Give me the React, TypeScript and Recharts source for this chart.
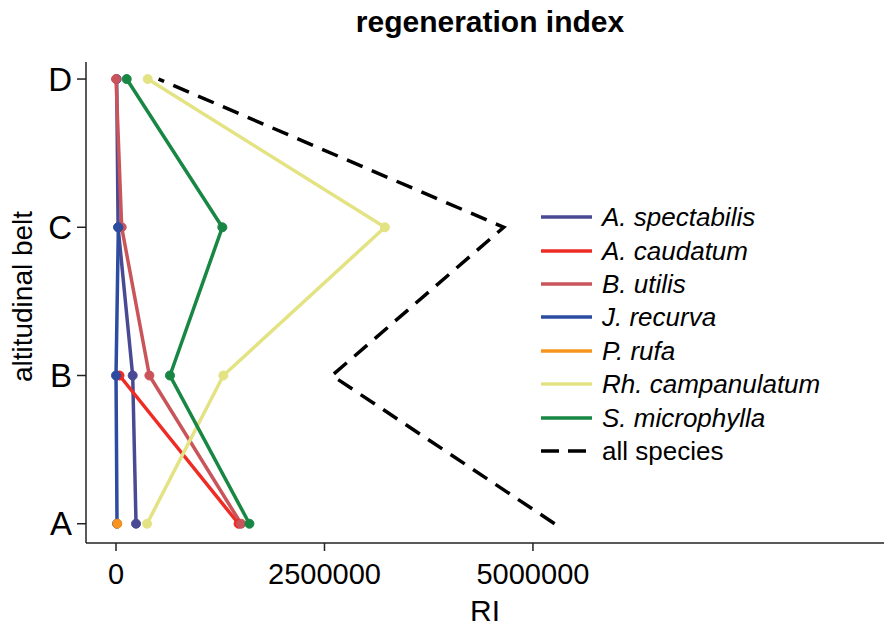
import { LineChart, Line, XAxis, YAxis } from 'recharts'

// altitudinal belts, bottom to top
const BELTS = ['A', 'B', 'C', 'D']
const BELT_INDEX = [0, 1, 2, 3]
const RI_TICKS = [0, 2500000, 5000000]

// regeneration index per belt (A, B, C, D); null = species absent
const A_SPECTABILIS = [240000, 200000, 25000, 8000]
const A_CAUDATUM = [1470000, 42000, null, null]
const B_UTILIS = [1500000, 400000, 68000, 0]
const J_RECURVA = [12000, 0, 28000, null]
const P_RUFA = [15000, null, null, null]
const RH_CAMPANULATUM = [372000, 1287000, 3225000, 380000]
const S_MICROPHYLLA = [1600000, 647000, 1275000, 128000]
const ALL_SPECIES = [5260000, 2590000, 4650000, 510000]

const SPECIES = [
  { key: 'aSpectabilis', name: 'A. spectabilis', color: '#4a4a94', values: A_SPECTABILIS },
  { key: 'aCaudatum', name: 'A. caudatum', color: '#ee2b24', values: A_CAUDATUM },
  { key: 'bUtilis', name: 'B. utilis', color: '#c9555b', values: B_UTILIS },
  { key: 'jRecurva', name: 'J. recurva', color: '#2b4ca0', values: J_RECURVA },
  { key: 'pRufa', name: 'P. rufa', color: '#f7941e', values: P_RUFA },
  { key: 'rhCampanulatum', name: 'Rh. campanulatum', color: '#e3e384', values: RH_CAMPANULATUM },
  { key: 'sMicrophylla', name: 'S. microphylla', color: '#198744', values: S_MICROPHYLLA },
]

const FONT = '"Liberation Sans", Arial, Helvetica, sans-serif'

const data = BELT_INDEX.map((b, i) => {
  const row: Record<string, number | null> = { belt: b, all: ALL_SPECIES[i] }
  SPECIES.forEach((s) => {
    row[s.key] = s.values[i]
  })
  return row
})

function LegendBox() {
  const rowStyle = { display: 'flex', alignItems: 'center', height: 33.4 }
  return (
    <div
      style={{
        position: 'absolute',
        left: 541,
        top: 200.6,
        fontFamily: FONT,
        fontSize: 26,
        lineHeight: 1,
        color: '#000',
      }}
    >
      {SPECIES.map((s) => (
        <div key={s.key} style={rowStyle}>
          <svg width={51} height={4} style={{ marginRight: 10 }}>
            <line x1={0} y1={2} x2={51} y2={2} stroke={s.color} strokeWidth={3.5} />
          </svg>
          <span style={{ fontStyle: 'italic' }}>{s.name}</span>
        </div>
      ))}
      <div style={rowStyle}>
        <svg width={51} height={4} style={{ marginRight: 10 }}>
          <line x1={0} y1={2} x2={51} y2={2} stroke="#000" strokeWidth={3.5} strokeDasharray="18 9" />
        </svg>
        <span>all species</span>
      </div>
    </div>
  )
}

export default function App() {
  return (
    <div style={{ position: 'absolute', left: 0, top: 0, width: 884, height: 626, background: '#fff' }}>
      <div
        style={{
          position: 'absolute',
          left: 0,
          width: 980,
          top: 7,
          textAlign: 'center',
          fontFamily: FONT,
          fontWeight: 'bold',
          fontSize: 30,
          lineHeight: 1,
        }}
      >
        regeneration index
      </div>
      <LineChart
        width={884}
        height={626}
        layout="vertical"
        data={data}
        margin={{ top: 62, right: 0, bottom: 0, left: 0 }}
        style={{ fontFamily: FONT }}
      >
        <XAxis
          type="number"
          domain={[-360000, 9210000]}
          allowDataOverflow
          ticks={RI_TICKS}
          height={83}
          tickSize={8}
          tickMargin={12}
          stroke="#222"
          strokeWidth={1.5}
          tick={{ fill: '#000', fontSize: 29 }}
          label={{ value: 'RI', position: 'insideBottom', offset: 5, fontSize: 30, fill: '#000' }}
        />
        <YAxis
          type="number"
          dataKey="belt"
          domain={[-0.13, 3.115]}
          allowDataOverflow
          reversed
          ticks={BELT_INDEX}
          tickFormatter={(v: number) => BELTS[v]}
          width={86}
          tickSize={9}
          tickMargin={5}
          stroke="#222"
          strokeWidth={1.5}
          tick={{ fill: '#000', fontSize: 33 }}
          label={({ viewBox }: any) => (
            <text
              x={32}
              y={viewBox.y + viewBox.height / 2 - 6}
              transform={`rotate(-90 32 ${viewBox.y + viewBox.height / 2 - 6})`}
              textAnchor="middle"
              fontSize={28}
              fill="#000"
            >
              altitudinal belt
            </text>
          )}
        />
        <Line
          dataKey="all"
          name="all species"
          stroke="#000"
          strokeWidth={3.5}
          strokeDasharray="17 10"
          dot={false}
          activeDot={false}
          isAnimationActive={false}
        />
        {SPECIES.map((s) => (
          <Line
            key={s.key}
            dataKey={s.key}
            name={s.name}
            stroke={s.color}
            strokeWidth={3.5}
            dot={{ r: 4.5, fill: s.color, stroke: s.color, strokeWidth: 1 }}
            activeDot={false}
            isAnimationActive={false}
          />
        ))}
      </LineChart>
      <LegendBox />
    </div>
  )
}
